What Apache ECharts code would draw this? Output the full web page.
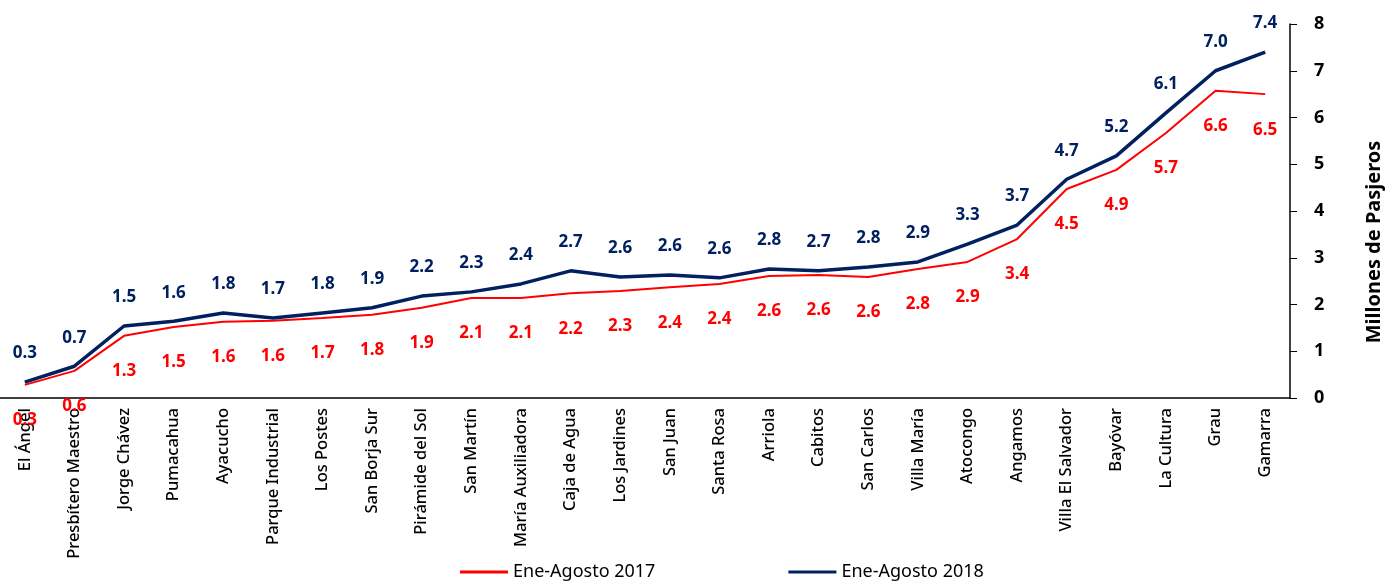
<!DOCTYPE html>
<html>
<head>
<meta charset="utf-8">
<script src="https://cdn.jsdelivr.net/npm/echarts@6/dist/echarts.min.js"></script>
<style>
html, body { margin: 0; padding: 0; background: #fff; }
#container { width: 1386px; height: 587px; }
</style>
</head>
<body>
<div id="container"></div>
<script>
// estaciones
let estaciones = ['El Ángel', 'Presbítero Maestro', 'Jorge Chávez', 'Pumacahua', 'Ayacucho',
    'Parque Industrial', 'Los Postes', 'San Borja Sur', 'Pirámide del Sol', 'San Martín',
    'María Auxiliadora', 'Caja de Agua', 'Los Jardines', 'San Juan', 'Santa Rosa', 'Arriola',
    'Cabitos', 'San Carlos', 'Villa María', 'Atocongo', 'Angamos', 'Villa El Salvador',
    'Bayóvar', 'La Cultura', 'Grau', 'Gamarra'];
// millones de pasajeros
let datos2017 = [0.28, 0.58, 1.33, 1.52, 1.63, 1.65, 1.71, 1.78, 1.93, 2.14, 2.14, 2.24, 2.29,
    2.37, 2.44, 2.61, 2.63, 2.59, 2.76, 2.91, 3.40, 4.47, 4.88, 5.67, 6.57, 6.50];
let datos2018 = [0.34, 0.68, 1.54, 1.64, 1.82, 1.71, 1.82, 1.93, 2.18, 2.27, 2.44, 2.72, 2.59,
    2.63, 2.57, 2.76, 2.72, 2.80, 2.91, 3.29, 3.70, 4.68, 5.18, 6.10, 7.00, 7.40];

let fuente = '"Noto Sans", sans-serif';
let dom = document.getElementById('container');
let myChart = echarts.init(dom);

option = {
    animation: false,
    textStyle: { fontFamily: fuente },
    legend: {
        bottom: 1,
        left: 455,
        itemWidth: 48,
        itemHeight: 3,
        itemGap: 133,
        icon: 'rect',
        textStyle: { color: '#000', fontSize: 18, fontFamily: fuente },
        data: ['Ene-Agosto 2017', 'Ene-Agosto 2018']
    },
    grid: {
        left: 0,
        right: 96,
        top: 24,
        bottom: 189,
        containLabel: false,
        outerBoundsMode: 'none'
    },
    xAxis: {
        type: 'category',
        data: estaciones,
        boundaryGap: true,
        axisLine: { lineStyle: { color: '#000', width: 1.5 } },
        axisTick: { show: false },
        axisLabel: {
            rotate: 90,
            interval: 0,
            margin: 10,
            color: '#000',
            fontSize: 16.5,
            fontWeight: 500,
            fontFamily: fuente
        }
    },
    yAxis: {
        type: 'value',
        position: 'right',
        min: 0,
        max: 8,
        interval: 1,
        name: 'Millones de Pasjeros',
        nameLocation: 'middle',
        nameRotate: 90,
        nameGap: 74,
        nameTextStyle: {
            color: '#000', fontSize: 20, fontWeight: 'bold', fontFamily: fuente,
            padding: [0, 62, 0, 0]
        },
        axisLine: { show: true, lineStyle: { color: '#000', width: 1.5 } },
        axisTick: { show: true, inside: false, length: 7, lineStyle: { color: '#000' } },
        axisLabel: { color: '#000', fontSize: 18, fontWeight: 'bold', margin: 24, fontFamily: fuente },
        splitLine: { show: false }
    },
    series: [
        {
            name: 'Ene-Agosto 2017',
            type: 'line',
            data: datos2017,
            symbol: 'circle',
            symbolSize: 0.1,
            showSymbol: true,
            itemStyle: { color: '#ff0000' },
            lineStyle: { width: 2, color: '#ff0000' },
            labelLayout: { hideOverlap: false },
            label: {
                show: true,
                position: 'bottom',
                distance: 27,
                color: '#ff0000',
                fontSize: 17,
                fontWeight: 'bold',
                formatter: function (p) { return p.value.toFixed(1); }
            }
        },
        {
            name: 'Ene-Agosto 2018',
            type: 'line',
            data: datos2018,
            symbol: 'circle',
            symbolSize: 0.1,
            showSymbol: true,
            itemStyle: { color: '#002060' },
            lineStyle: { width: 3.5, color: '#002060' },
            labelLayout: { hideOverlap: false },
            label: {
                show: true,
                position: 'top',
                distance: 20,
                color: '#002060',
                fontSize: 17,
                fontWeight: 'bold',
                formatter: function (p) { return p.value.toFixed(1); }
            }
        }
    ]
};
if (option && typeof option === "object") {
    myChart.setOption(option, true);
}
window.onresize = function () {
    myChart.resize();
}
</script>
</body>
</html>
